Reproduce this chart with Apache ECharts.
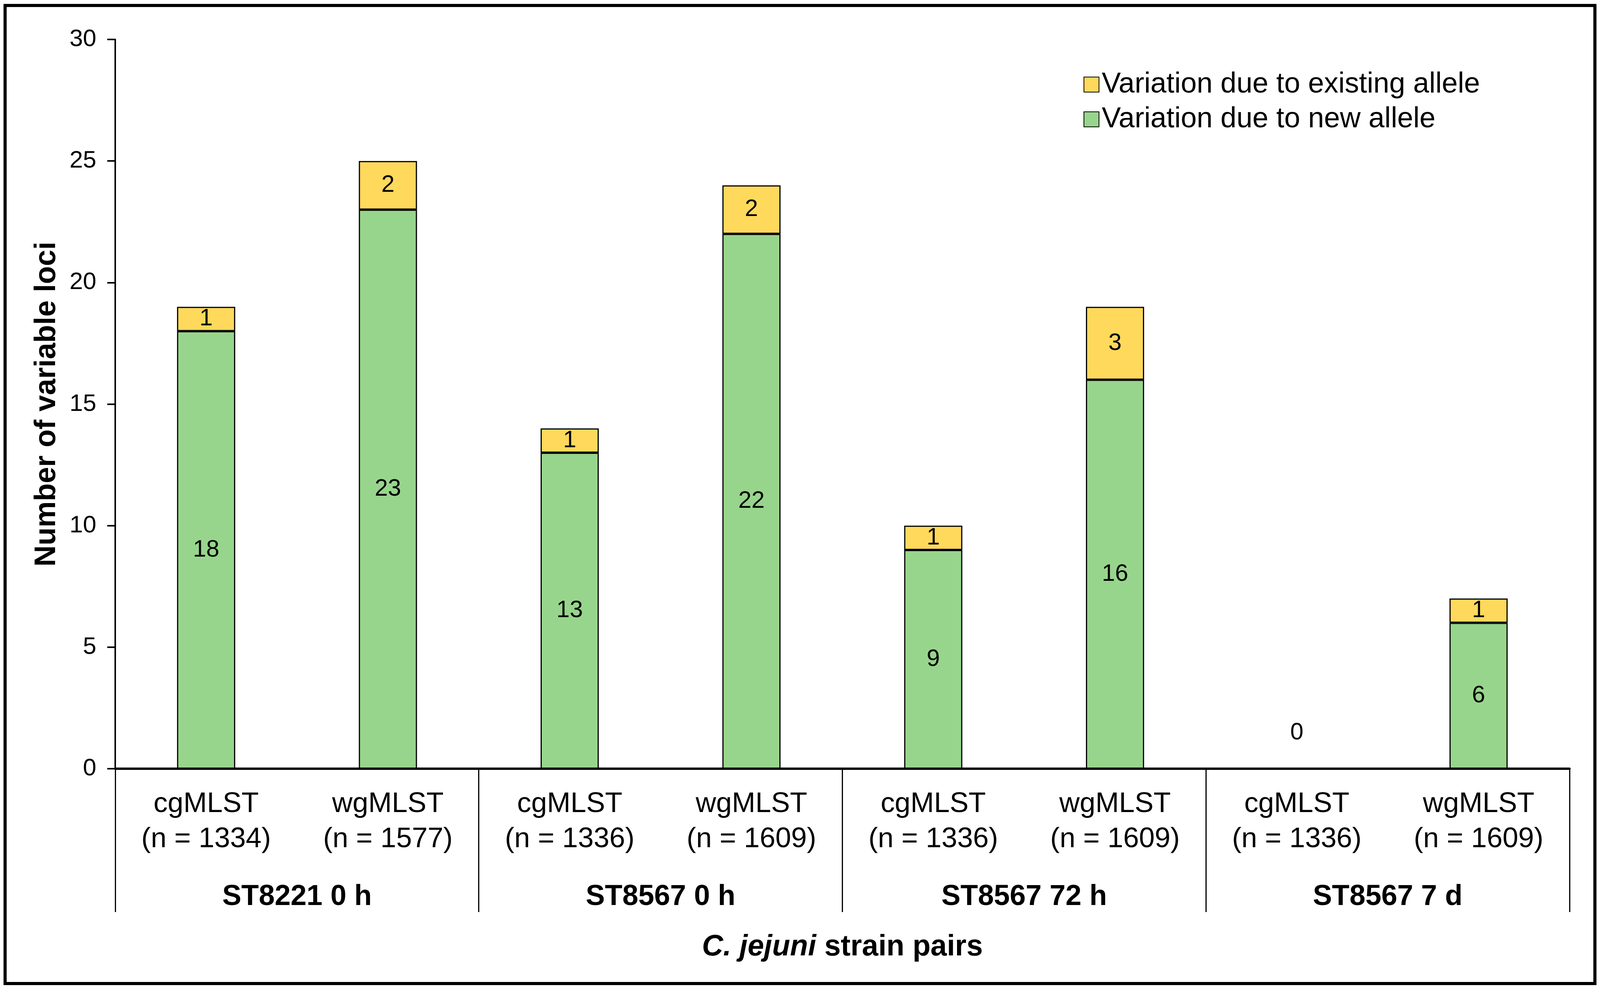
<!DOCTYPE html>
<html><head><meta charset="utf-8">
<script src="https://cdn.jsdelivr.net/npm/echarts@6/dist/echarts.min.js"></script>
<style>html,body{margin:0;padding:0;background:#fff;overflow:hidden}#c{width:100vw;height:100vh}</style>
</head><body><div id="c"></div>
<script>
const categories = ['cgMLST\n(n = 1334)','wgMLST\n(n = 1577)','cgMLST\n(n = 1336)','wgMLST\n(n = 1609)','cgMLST\n(n = 1336)','wgMLST\n(n = 1609)','cgMLST\n(n = 1336)','wgMLST\n(n = 1609)'];
const groups = ['ST8221 0 h','ST8567 0 h','ST8567 72 h','ST8567 7 d'];
const newAllele = [18,23,13,22,9,16,0,6];
const existingAllele = [1,2,1,2,1,3,0,1];
const yTicks = {min:0,max:30,interval:5};

const FONT = "'Liberation Sans', Arial, sans-serif";
const el = document.getElementById('c');
const chart = echarts.init(el);
const W = chart.getWidth() / 4401, H = chart.getHeight() / 2532;
const F = Math.sqrt(W * H);
const greenData = newAllele.map(v => v === 0
  ? {value:v, label:{position:'top', distance:60*H}}
  : v);
chart.setOption({
  animation:false,
  textStyle:{fontFamily:FONT, color:'#000'},
  graphic:[{type:'rect', shape:{x:14*W,y:14*H,width:4373*W,height:2504*H}, style:{fill:'none', stroke:'#000', lineWidth:8}, z:100}],
  legend:{
    orient:'vertical', left:2975*W, top:175*H, itemWidth:40*F, itemHeight:40*F, itemGap:16*H,
    icon:'rect',
    data:['Variation due to existing allele','Variation due to new allele'],
    textStyle:{fontSize:76*F, fontFamily:FONT, color:'#000', padding:[0,0,0,2]}
  },
  grid:{left:317*W, right:84*W, top:101*H, bottom:564*H},
  xAxis:[
    {type:'category', data:categories, position:'bottom',
     axisLine:{show:true, lineStyle:{color:'#000', width:6}},
     axisTick:{show:false},
     axisLabel:{interval:0, fontSize:75*F, lineHeight:90*H, margin:46*H, color:'#000', fontFamily:FONT}},
    {type:'category', data:groups, position:'bottom',
     axisLine:{show:false},
     axisTick:{show:true, length:367*H, lineStyle:{color:'#000', width:3}},
     axisLabel:{interval:0, fontSize:76*F, fontWeight:'bold', margin:292*H, color:'#000', fontFamily:FONT},
     name:'{i|C. jejuni} strain pairs', nameLocation:'middle', nameGap:420*H,
     nameTextStyle:{fontSize:78*F, fontWeight:'bold', color:'#000', fontFamily:FONT,
       rich:{i:{fontSize:78*F, fontWeight:'bold', fontStyle:'italic', color:'#000', fontFamily:FONT}}}}
  ],
  yAxis:{type:'value', min:yTicks.min, max:yTicks.max, interval:yTicks.interval,
    splitLine:{show:false},
    axisLine:{show:true, lineStyle:{color:'#000', width:4}},
    axisTick:{show:true, length:22*W, lineStyle:{color:'#000', width:4}},
    axisLabel:{fontSize:64*F, margin:52*W, color:'#000', fontFamily:FONT},
    name:'Number of variable loci', nameLocation:'middle', nameGap:148*W,
    nameTextStyle:{fontSize:78*F, fontWeight:'bold', color:'#000', fontFamily:FONT}},
  series:[
    {name:'Variation due to new allele', type:'bar', stack:'s', data:greenData, barWidth:'32%', xAxisIndex:0,
     itemStyle:{color:'#98D58C', borderColor:'#000', borderWidth:3},
     label:{show:true, position:'inside', fontSize:63*F, color:'#000', fontFamily:FONT}},
    {name:'Variation due to existing allele', type:'bar', stack:'s', data:existingAllele, barWidth:'32%', xAxisIndex:0,
     itemStyle:{color:'#FFD95C', borderColor:'#000', borderWidth:3},
     label:{show:true, position:'inside', fontSize:63*F, color:'#000', fontFamily:FONT,
       formatter:p => p.value === 0 ? '' : p.value}}
  ]
});
</script></body></html>
